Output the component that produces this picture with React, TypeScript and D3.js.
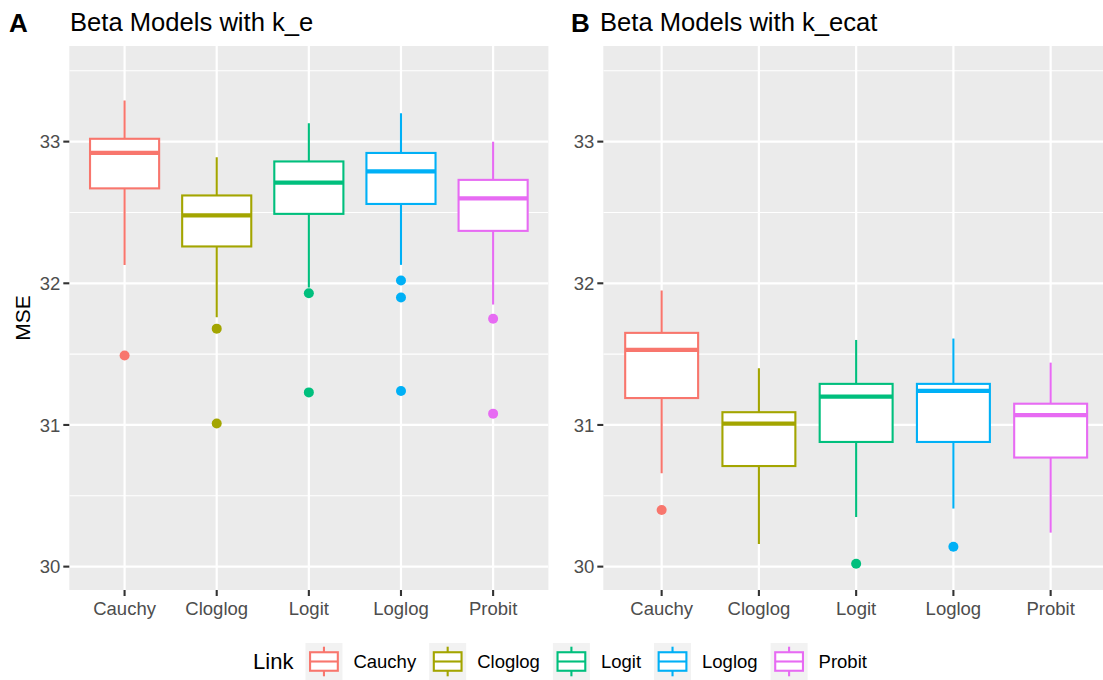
import React from "react";
import * as d3 from "d3";

const links = ["Cauchy", "Cloglog", "Logit", "Loglog", "Probit"];
const linkColors = ["#F8766D", "#A3A500", "#00BF7D", "#00B0F6", "#E76BF3"];
const yTicks = [30, 31, 32, 33];
const yMinor = [30.5, 31.5, 32.5, 33.5];

// Panel A: k_e
const upperA = [33.29, 32.89, 33.13, 33.2, 33.0];
const q3A = [33.02, 32.62, 32.86, 32.92, 32.73];
const medianA = [32.92, 32.48, 32.71, 32.79, 32.6];
const q1A = [32.67, 32.26, 32.49, 32.56, 32.37];
const lowerA = [32.13, 31.76, 31.97, 32.13, 31.85];
const outliersA = [[31.49], [31.68, 31.01], [31.93, 31.23], [32.02, 31.9, 31.24], [31.75, 31.08]];

// Panel B: k_ecat
const upperB = [31.95, 31.4, 31.6, 31.61, 31.44];
const q3B = [31.65, 31.09, 31.29, 31.29, 31.15];
const medianB = [31.53, 31.01, 31.2, 31.24, 31.07];
const q1B = [31.19, 30.71, 30.88, 30.88, 30.77];
const lowerB = [30.66, 30.16, 30.35, 30.41, 30.24];
const outliersB = [[30.4], [], [30.02], [30.14], []];

const W = 1103;
const H = 680;
const FONT = "'Liberation Sans', Arial, Helvetica, sans-serif";
const panelTop = 46;
const panelBottom = 590;
const boxLw = 2.1;

const y = d3.scaleLinear().domain([29.835, 33.675]).range([panelBottom, panelTop]);

interface BoxStats {
  upper: number[];
  q3: number[];
  median: number[];
  q1: number[];
  lower: number[];
  outliers: number[][];
}

const statsA: BoxStats = { upper: upperA, q3: q3A, median: medianA, q1: q1A, lower: lowerA, outliers: outliersA };
const statsB: BoxStats = { upper: upperB, q3: q3B, median: medianB, q1: q1B, lower: lowerB, outliers: outliersB };

let measureCtx: CanvasRenderingContext2D | null = null;
function textWidth(s: string, size: number) {
  if (!measureCtx) measureCtx = document.createElement("canvas").getContext("2d");
  if (!measureCtx) return s.length * size * 0.55;
  measureCtx.font = `${size}px ${FONT}`;
  return measureCtx.measureText(s).width;
}

function Panel({
  x0,
  x1,
  tag,
  tagX,
  title,
  titleX,
  stats,
}: {
  x0: number;
  x1: number;
  tag: string;
  tagX: number;
  title: string;
  titleX: number;
  stats: BoxStats;
}) {
  const x = d3.scalePoint<string>().domain(links).range([x0, x1]).padding(0.6);
  const bw = x.step() * 0.75;
  const clipId = `clip-${tag}`;
  return (
    <g>
      <defs>
        <clipPath id={clipId}>
          <rect x={x0} y={panelTop} width={x1 - x0} height={panelBottom - panelTop} />
        </clipPath>
      </defs>
      <rect x={x0} y={panelTop} width={x1 - x0} height={panelBottom - panelTop} fill="#EBEBEB" />
      <g clipPath={`url(#${clipId})`}>
        {yMinor.map((t) => (
          <line key={"m" + t} x1={x0} x2={x1} y1={y(t)} y2={y(t)} stroke="#fff" strokeWidth={1.1} />
        ))}
        {yTicks.map((t) => (
          <line key={"M" + t} x1={x0} x2={x1} y1={y(t)} y2={y(t)} stroke="#fff" strokeWidth={2.2} />
        ))}
        {links.map((l) => (
          <line key={"v" + l} x1={x(l)} x2={x(l)} y1={panelTop} y2={panelBottom} stroke="#fff" strokeWidth={2.2} />
        ))}
        {links.map((l, i) => {
          const cx = x(l) as number;
          const c = linkColors[i];
          return (
            <g key={l}>
              <line x1={cx} x2={cx} y1={y(stats.upper[i])} y2={y(stats.q3[i])} stroke={c} strokeWidth={boxLw} />
              <line x1={cx} x2={cx} y1={y(stats.q1[i])} y2={y(stats.lower[i])} stroke={c} strokeWidth={boxLw} />
              <rect
                x={cx - bw / 2}
                y={y(stats.q3[i])}
                width={bw}
                height={y(stats.q1[i]) - y(stats.q3[i])}
                fill="#fff"
                stroke={c}
                strokeWidth={boxLw}
              />
              <line
                x1={cx - bw / 2}
                x2={cx + bw / 2}
                y1={y(stats.median[i])}
                y2={y(stats.median[i])}
                stroke={c}
                strokeWidth={boxLw * 2}
              />
              {stats.outliers[i].map((o, j) => (
                <circle key={j} cx={cx} cy={y(o)} r={5} fill={c} />
              ))}
            </g>
          );
        })}
      </g>
      {yTicks.map((t) => (
        <g key={"yt" + t}>
          <line x1={x0 - 6} x2={x0} y1={y(t)} y2={y(t)} stroke="#333" strokeWidth={2.1} />
          <text x={x0 - 9} y={y(t)} dy="0.36em" textAnchor="end" fontSize={18.5} fill="#4D4D4D">
            {t}
          </text>
        </g>
      ))}
      {links.map((l) => (
        <g key={"xt" + l}>
          <line x1={x(l)} x2={x(l)} y1={panelBottom} y2={panelBottom + 6} stroke="#333" strokeWidth={2.1} />
          <text x={x(l)} y={615} textAnchor="middle" fontSize={18.5} fill="#4D4D4D">
            {l}
          </text>
        </g>
      ))}
      <text x={tagX} y={32} fontSize={26} fontWeight="bold" fill="#000">
        {tag}
      </text>
      <text x={titleX} y={31} fontSize={25.6} fill="#000">
        {title}
      </text>
    </g>
  );
}

function Legend() {
  const fs = 18.5;
  const keyW = 37;
  const keyH = 37;
  const keyTop = 643;
  const titleW = textWidth("Link", 22);
  const items: { x: number; label: string; color: string }[] = [];
  let cur = titleW + 12;
  links.forEach((l, i) => {
    items.push({ x: cur, label: l, color: linkColors[i] });
    cur += keyW + 11 + textWidth(l, fs) + 13;
  });
  const total = cur - 13;
  const left = 560 - total / 2;
  return (
    <g transform={`translate(${left},0)`}>
      <text x={0} y={keyTop + keyH / 2} dy="0.36em" fontSize={22} fill="#000">
        Link
      </text>
      {items.map((it) => {
        const kx = it.x;
        const cx = kx + keyW / 2;
        return (
          <g key={it.label}>
            <rect x={kx} y={keyTop} width={keyW} height={keyH} fill="#F2F2F2" />
            <line x1={cx} x2={cx} y1={keyTop + keyH * 0.1} y2={keyTop + keyH * 0.9} stroke={it.color} strokeWidth={boxLw} />
            <rect
              x={kx + keyW * 0.125}
              y={keyTop + keyH * 0.25}
              width={keyW * 0.75}
              height={keyH * 0.5}
              fill="#fff"
              stroke={it.color}
              strokeWidth={boxLw}
            />
            <line
              x1={kx + keyW * 0.125}
              x2={kx + keyW * 0.875}
              y1={keyTop + keyH / 2}
              y2={keyTop + keyH / 2}
              stroke={it.color}
              strokeWidth={boxLw}
            />
            <text x={kx + keyW + 11} y={keyTop + keyH / 2} dy="0.36em" fontSize={fs} fill="#000">
              {it.label}
            </text>
          </g>
        );
      })}
    </g>
  );
}

export default function App() {
  return (
    <svg
      width={W}
      height={H}
      viewBox={`0 0 ${W} ${H}`}
      style={{ position: "absolute", left: 0, top: 0, background: "#fff" }}
      fontFamily={FONT}
    >
      <rect width={W} height={H} fill="#fff" />
      <Panel x0={69.3} x1={548.4} tag="A" tagX={9} title="Beta Models with k_e" titleX={70} stats={statsA} />
      <Panel x0={603.3} x1={1109} tag="B" tagX={571} title="Beta Models with k_ecat" titleX={600} stats={statsB} />
      <text transform="translate(30,318) rotate(-90)" textAnchor="middle" fontSize={21} fill="#000">
        MSE
      </text>
      <Legend />
    </svg>
  );
}
